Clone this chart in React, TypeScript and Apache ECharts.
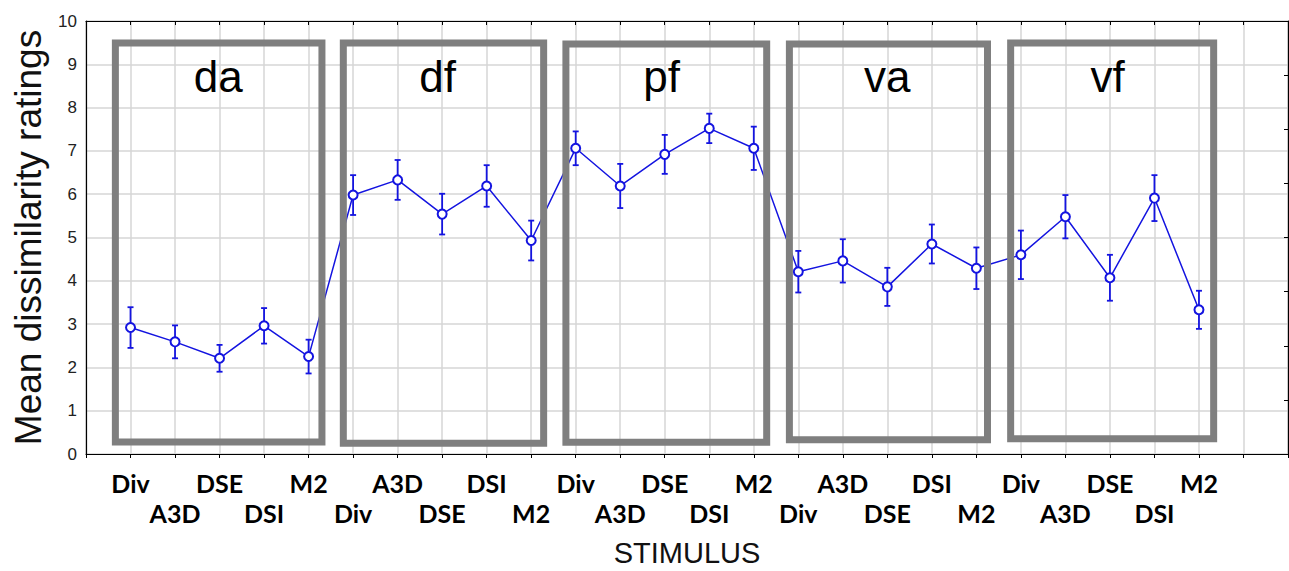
import React, { useEffect, useRef } from 'react';
import * as echarts from 'echarts';

const stimuli = ['Div', 'A3D', 'DSE', 'DSI', 'M2'];
const groups = ['da', 'df', 'pf', 'va', 'vf'];

const daMeans = [2.92, 2.59, 2.21, 2.96, 2.25];
const dfMeans = [5.98, 6.33, 5.54, 6.19, 4.93];
const pfMeans = [7.06, 6.19, 6.92, 7.52, 7.06];
const vaMeans = [4.21, 4.46, 3.86, 4.85, 4.29];
const vfMeans = [4.6, 5.48, 4.07, 5.91, 3.33];

const daErr = [0.47, 0.38, 0.31, 0.41, 0.39];
const dfErr = [0.46, 0.46, 0.47, 0.48, 0.46];
const pfErr = [0.39, 0.51, 0.45, 0.34, 0.5];
const vaErr = [0.48, 0.5, 0.44, 0.45, 0.48];
const vfErr = [0.56, 0.5, 0.53, 0.53, 0.44];

// group boxes (in axis units: stimulus index / rating)
const boxLeft = [-0.34, 4.78, 9.78, 14.8, 19.77];
const boxRight = [4.3, 9.28, 14.29, 19.25, 24.33];
const boxTop = [9.49, 9.49, 9.47, 9.47, 9.49];
const boxBottom = [0.28, 0.25, 0.27, 0.33, 0.35];
const labelX = [1.97, 6.9, 11.93, 17.0, 21.95];
const labelY = [8.71, 8.71, 8.71, 8.71, 8.71];

const allMeans = [daMeans, dfMeans, pfMeans, vaMeans, vfMeans];
const allErr = [daErr, dfErr, pfErr, vaErr, vfErr];

const BLUE = '#1414e0';

export default function App() {
  const ref = useRef<HTMLDivElement>(null);
  useEffect(() => {
    if (!ref.current) return;
    const chart = echarts.init(ref.current, null, { renderer: 'svg' });
    const tickLabels: string[] = [];
    const points: number[][] = [];
    const errData: number[][] = [];
    allMeans.forEach((ms, g) => {
      ms.forEach((m, k) => {
        const i = g * 5 + k;
        tickLabels.push(stimuli[k]);
        points.push([i, m]);
        errData.push([i, m - allErr[g][k], m + allErr[g][k]]);
      });
    });
    const boxData = groups.map((name, g) => [boxLeft[g], boxRight[g], boxTop[g], boxBottom[g], labelX[g], labelY[g], name]);

    chart.setOption({
      animation: false,
      backgroundColor: '#ffffff',
      grid: { left: 86, top: 21, right: 1, bottom: 117, containLabel: false, outerBoundsMode: 'none' },
      xAxis: [
        {
          type: 'value',
          min: -1,
          max: 26,
          interval: 1,
          position: 'bottom',
          name: 'STIMULUS',
          nameLocation: 'middle',
          nameGap: 84,
          nameTextStyle: { fontFamily: 'Liberation Sans, Arial, sans-serif', fontSize: 29, color: '#111' },
          axisLine: { show: true, onZero: false, lineStyle: { color: '#000', width: 1.2 } },
          axisTick: { show: true, inside: false, length: 4, lineStyle: { color: '#000' } },
          axisLabel: {
            margin: 14,
            fontFamily: 'Lato, Open Sans, sans-serif',
            fontWeight: 'bold',
            fontSize: 25,
            lineHeight: 30,
            color: '#000',
            formatter: (v: number) => {
              const i = Math.round(v);
              if (i < 0 || i >= tickLabels.length) return '';
              return i % 2 === 0 ? tickLabels[i] : '\n' + tickLabels[i];
            },
          },
          splitLine: { show: true, lineStyle: { color: '#d6d6d6', width: 1.5 } },
        },
        {
          type: 'value',
          min: -1,
          max: 26,
          interval: 1,
          position: 'top',
          axisLine: { show: true, onZero: false, lineStyle: { color: '#000', width: 1.2 } },
          axisTick: { show: true, inside: true, length: 4, lineStyle: { color: '#000' } },
          axisLabel: { show: false },
          splitLine: { show: false },
        },
      ],
      yAxis: [
        {
          type: 'value',
          min: 0,
          max: 10,
          interval: 1,
          position: 'left',
          name: 'Mean dissimilarity ratings',
          nameLocation: 'middle',
          nameRotate: 90,
          nameGap: 36,
          nameTextStyle: { fontFamily: 'Liberation Sans, Arial, sans-serif', fontSize: 37, color: '#111' },
          axisLine: { show: true, onZero: false, lineStyle: { color: '#000', width: 1.2 } },
          axisTick: { show: false },
          axisLabel: { margin: 9, fontFamily: 'Liberation Sans, Arial, sans-serif', fontSize: 17, color: '#222' },
          splitLine: { show: true, lineStyle: { color: '#d6d6d6', width: 1.5 } },
        },
        {
          type: 'value',
          min: 0,
          max: 8,
          interval: 1,
          position: 'right',
          axisLine: { show: true, onZero: false, lineStyle: { color: '#000', width: 1.2 } },
          axisTick: { show: true, inside: true, length: 4, lineStyle: { color: '#000' } },
          axisLabel: { show: false },
          splitLine: { show: false },
        },
      ],
      series: [
        {
          type: 'custom',
          name: 'errors',
          xAxisIndex: 0,
          yAxisIndex: 0,
          z: 2,
          data: errData,
          renderItem: (params: any, api: any) => {
            const x = api.value(0);
            const lo = api.coord([x, api.value(1)]);
            const hi = api.coord([x, api.value(2)]);
            const cap = 3;
            const style = { stroke: BLUE, lineWidth: 1.8 };
            return {
              type: 'group',
              children: [
                { type: 'line', shape: { x1: lo[0], y1: lo[1], x2: hi[0], y2: hi[1] }, style },
                { type: 'line', shape: { x1: hi[0] - cap, y1: hi[1], x2: hi[0] + cap, y2: hi[1] }, style },
                { type: 'line', shape: { x1: lo[0] - cap, y1: lo[1], x2: lo[0] + cap, y2: lo[1] }, style },
              ],
            };
          },
        },
        {
          type: 'line',
          name: 'mean',
          xAxisIndex: 0,
          yAxisIndex: 0,
          z: 3,
          data: points,
          symbol: 'circle',
          symbolSize: 9,
          showAllSymbol: true,
          lineStyle: { color: BLUE, width: 1.5 },
          itemStyle: { color: '#ffffff', borderColor: BLUE, borderWidth: 2 },
        },
        {
          type: 'custom',
          name: 'boxes',
          xAxisIndex: 0,
          yAxisIndex: 0,
          z: 5,
          clip: false,
          data: boxData,
          renderItem: (params: any, api: any) => {
            const tl = api.coord([api.value(0), api.value(2)]);
            const br = api.coord([api.value(1), api.value(3)]);
            const lp = api.coord([api.value(4), api.value(5)]);
            return {
              type: 'group',
              children: [
                {
                  type: 'rect',
                  shape: { x: tl[0], y: tl[1], width: br[0] - tl[0], height: br[1] - tl[1] },
                  style: { fill: 'none', stroke: '#7f7f7f', lineWidth: 7 },
                },
                {
                  type: 'text',
                  x: lp[0],
                  y: lp[1],
                  style: {
                    text: groups[params.dataIndex],
                    fontFamily: 'Liberation Sans, Arial, sans-serif',
                    fontSize: 44,
                    fill: '#000',
                    align: 'center',
                    verticalAlign: 'middle',
                  },
                },
              ],
            };
          },
        },
      ],
    });
    return () => chart.dispose();
  }, []);
  return <div ref={ref} style={{ position: 'absolute', left: 0, top: 0, width: 1289, height: 571 }} />;
}
